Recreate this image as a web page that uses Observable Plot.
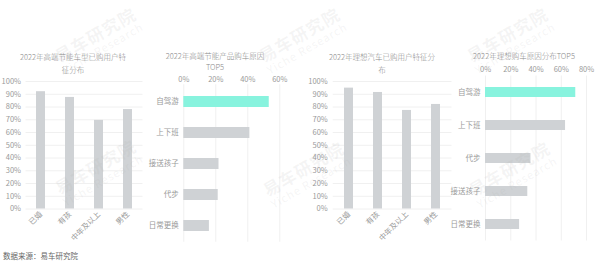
<!DOCTYPE html>
<html>
<head>
<meta charset="utf-8">
<script src="https://cdn.jsdelivr.net/npm/d3@7"></script>
<script src="https://cdn.jsdelivr.net/npm/@observablehq/plot@0.6"></script>
<style>
  html, body { margin: 0; padding: 0; background: #fff; }
  #root { position: relative; width: 600px; height: 262px; overflow: hidden; font-family: "Noto Sans CJK SC", "Noto Sans", sans-serif; }
  .panel { position: absolute; }
  .title { position: absolute; text-align: center; font-size: 7.5px; color: #8a8a8a; font-weight: 300; white-space: nowrap; }
  .wm { position: absolute; transform: rotate(-30deg); transform-origin: center; color: rgba(170,170,170,0.13); text-align: center; pointer-events: none; white-space: nowrap; z-index: 5; }
  .wm .cn { font-size: 17px; font-weight: bold; line-height: 19px; letter-spacing: 1px; }
  .wm .en { font-size: 11px; line-height: 12px; letter-spacing: 1px; }
  #foot { position: absolute; left: 3px; top: 250px; font-size: 7.5px; color: #666; }
</style>
</head>
<body>
<div id="root"></div>
<script>
// ---- data ----
const featureCats = ["已婚", "有孩", "中年及以上", "男性"];
const highEndFeatureVals = [92, 87.5, 69.5, 78];
const lixiangFeatureVals = [94.8, 91.4, 77.3, 82];

const highEndReasons = ["自驾游", "上下班", "接送孩子", "代步", "日常更换"];
const highEndReasonVals = [53.4, 41.3, 22, 21.5, 16];

const lixiangReasons = ["自驾游", "上下班", "代步", "接送孩子", "日常更换"];
const lixiangReasonVals = [71.5, 63.4, 36, 33.5, 27];

const pctTicksY = [0, 10, 20, 30, 40, 50, 60, 70, 80, 90, 100];
const pctTicks60 = [0, 20, 40, 60];
const pctTicks80 = [0, 20, 40, 60, 80];

const titles = [
  "2022年高端节能车型已购用户特<br>征分布",
  "2022年高端节能产品购车原因<br>TOP5",
  "2022年理想汽车已购用户特征分<br>布",
  "2022年理想购车原因分布TOP5"
];
const sourceText = "数据来源：易车研究院";
const wmCn = "易车研究院";
const wmEn = "Yiche Research";

// ---- style ----
const GREY = "#cfd2d5";
const AQUA = "#88f3de";
const GRID = "#f0f0f0";
const TICK = "#9a9a9a";
const FONT = "'Noto Sans CJK SC', 'Noto Sans', sans-serif";

const root = document.getElementById("root");

function place(el, left, top) {
  const wrap = document.createElement("div");
  wrap.className = "panel";
  wrap.style.left = left + "px";
  wrap.style.top = top + "px";
  wrap.appendChild(el);
  root.appendChild(wrap);
}

function columnPanel(vals, opt) {
  const data = featureCats.map((c, i) => ({cat: c, value: vals[i]}));
  return Plot.plot({
    width: opt.width, height: 170,
    marginTop: 6, marginBottom: 36.5, marginLeft: opt.ml, marginRight: opt.mr,
    style: {fontFamily: FONT, fontSize: "7.5px", color: TICK, background: "transparent", overflow: "visible"},
    x: {domain: featureCats, paddingInner: 0.7, paddingOuter: 0.35, axis: null},
    y: {domain: [0, 100], axis: null},
    marks: [
      Plot.gridY({ticks: pctTicksY, stroke: GRID, strokeOpacity: 1}),
      Plot.axisY({ticks: pctTicksY, tickSize: 0, tickPadding: opt.tp, tickFormat: d => d + "%", label: null}),
      Plot.barY(data, {x: "cat", y: "value", fill: GREY}),
      Plot.axisX({tickSize: 0, tickPadding: 4, tickRotate: -45, label: null})
    ]
  });
}

function barPanel(cats, vals, opt) {
  const data = cats.map((c, i) => ({cat: c, value: vals[i], idx: i}));
  return Plot.plot({
    width: opt.width, height: opt.height,
    marginTop: opt.mt, marginBottom: opt.mb, marginLeft: opt.ml, marginRight: opt.mr,
    style: {fontFamily: FONT, fontSize: "7.5px", color: TICK, background: "transparent", overflow: "visible"},
    x: {domain: opt.domain, axis: null},
    y: {domain: cats, paddingInner: opt.pad, paddingOuter: opt.pad / 2, axis: null},
    marks: [
      Plot.gridX({ticks: opt.ticks, stroke: GRID, strokeOpacity: 1}),
      Plot.axisX({anchor: "top", ticks: opt.ticks, tickSize: 0, tickPadding: opt.xtp, tickFormat: d => d + "%", label: null}),
      Plot.barX(data, {x: "value", y: "cat", fill: d => d.idx === 0 ? AQUA : GREY}),
      Plot.axisY({tickSize: 0, tickPadding: 5, label: null})
    ]
  });
}

// panel 1
place(columnPanel(highEndFeatureVals, {width: 150, ml: 25.5, mr: 7.5, tp: 5}), 0, 75);
// panel 2
place(barPanel(highEndReasons, highEndReasonVals, {width: 150, height: 175, mt: 14.25, mb: 3.25, ml: 43.3, mr: 10.7, domain: [0, 60], ticks: pctTicks60, pad: 0.65, xtp: 3}), 140, 70);
// panel 3
place(columnPanel(lixiangFeatureVals, {width: 170, ml: 42.7, mr: 8.5, tp: 5.5}), 290, 75);
// panel 4
place(barPanel(lixiangReasons, lixiangReasonVals, {width: 160, height: 185, mt: 15.5, mb: 4.5, ml: 45, mr: 14, domain: [0, 80], ticks: pctTicks80, pad: 0.7, xtp: 4.5}), 440, 60);

// titles
const titlePos = [
  {cx: 73, top: 49.5, lh: 13},
  {cx: 215, top: 49.5, lh: 11},
  {cx: 382, top: 49.5, lh: 13},
  {cx: 524, top: 49.5, lh: 11}
];
titles.forEach((t, i) => {
  const d = document.createElement("div");
  d.className = "title";
  d.innerHTML = t;
  d.style.width = "160px";
  d.style.left = (titlePos[i].cx - 80) + "px";
  d.style.top = titlePos[i].top + "px";
  d.style.lineHeight = titlePos[i].lh + "px";
  root.appendChild(d);
});

// footer
const foot = document.createElement("div");
foot.id = "foot";
foot.textContent = sourceText;
root.appendChild(foot);

// watermarks
const wmPos = [[98, 40], [302, 40], [510, 40], [98, 172], [306, 174], [512, 174]];
wmPos.forEach(([cx, cy]) => {
  const w = document.createElement("div");
  w.className = "wm";
  w.style.width = "110px";
  w.style.left = (cx - 55) + "px";
  w.style.top = (cy - 16) + "px";
  w.innerHTML = `<div class="cn">${wmCn}</div><div class="en">${wmEn}</div>`;
  root.appendChild(w);
});
</script>
</body>
</html>
